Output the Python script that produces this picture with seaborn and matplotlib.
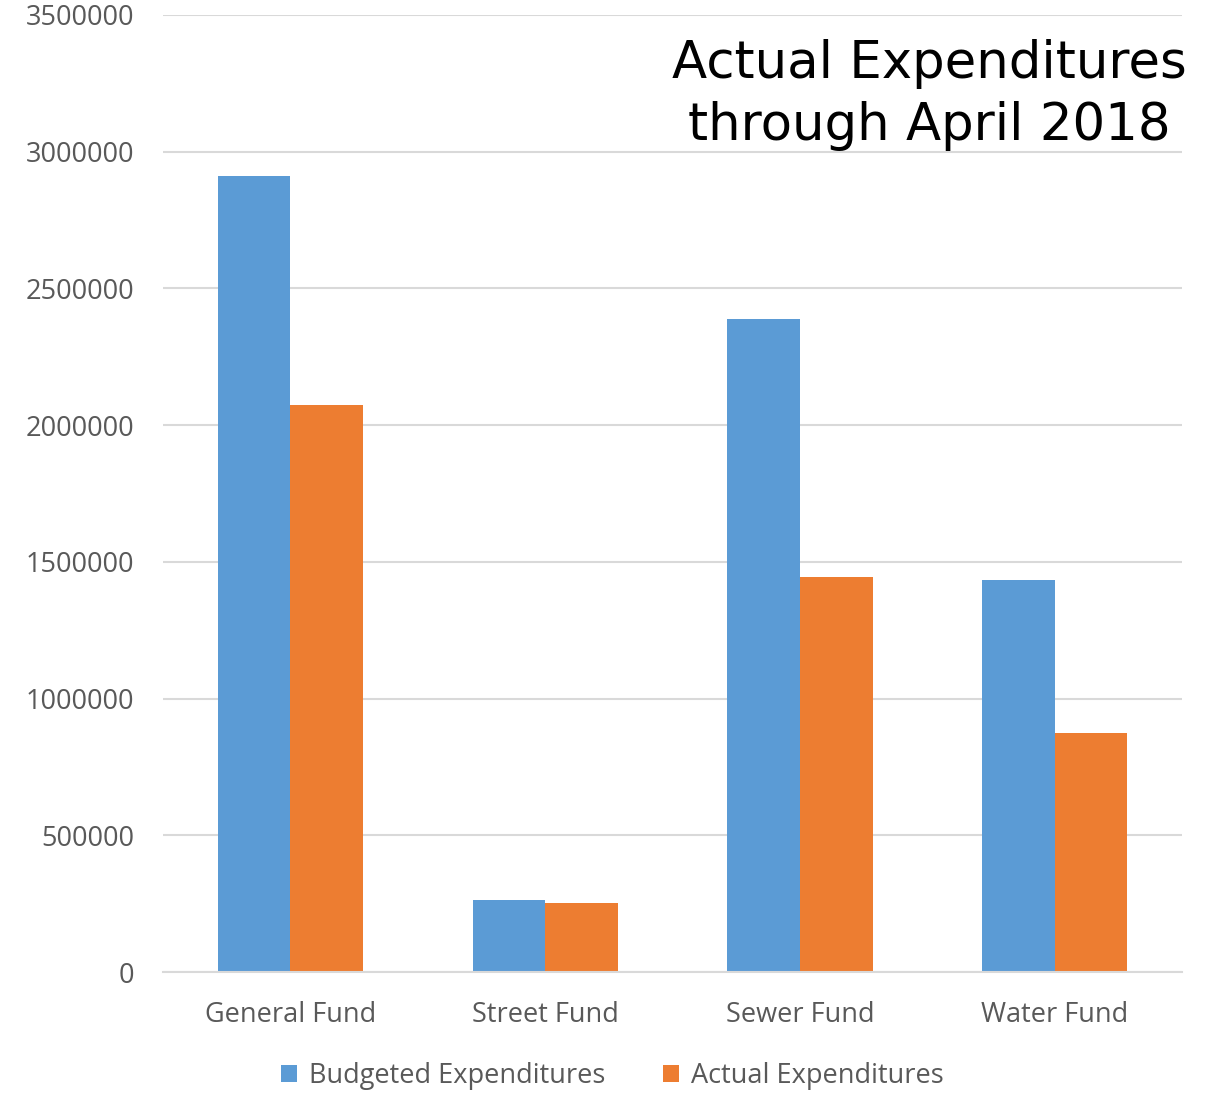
import matplotlib
matplotlib.use("Agg")
import matplotlib.pyplot as plt
import seaborn as sns
import pandas as pd

# Fund expenditure figures
funds = ["General Fund", "Street Fund", "Sewer Fund", "Water Fund"]
budgeted = [2910000, 265000, 2388000, 1433000]
actual = [2075000, 251000, 1443000, 873000]
series_names = ["Budgeted Expenditures", "Actual Expenditures"]
y_ticks = [0, 500000, 1000000, 1500000, 2000000, 2500000, 3000000, 3500000]
title_text = "Actual Expenditures\nthrough April 2018"

df = pd.DataFrame({
    "Fund": funds * 2,
    "Series": [series_names[0]] * len(funds) + [series_names[1]] * len(funds),
    "Value": budgeted + actual,
})

sns.set_theme(style="white")
plt.rcParams["font.family"] = ["Open Sans", "DejaVu Sans"]

fig = plt.figure(figsize=(12.2, 10.94), dpi=100)
ax = fig.add_axes([0.1336, 0.1115, 0.8354, 0.8748])

palette = {series_names[0]: "#5B9BD5", series_names[1]: "#ED7D31"}
sns.barplot(data=df, x="Fund", y="Value", hue="Series", palette=palette,
            width=0.57, gap=0, saturation=1, ax=ax, legend=True)

ax.set_ylim(0, 3500000)
ax.set_xlim(-0.5, 3.5)
ax.set_yticks(y_ticks)
ax.set_yticklabels([str(t) for t in y_ticks])
ax.set_xlabel("")
ax.set_ylabel("")
ax.yaxis.grid(True, color="#d9d9d9", linewidth=1.5)
ax.set_axisbelow(True)
for s in ["top", "right", "left"]:
    ax.spines[s].set_visible(False)
ax.spines["bottom"].set_color("#d9d9d9")
ax.spines["bottom"].set_linewidth(1.5)
ax.tick_params(axis="both", length=0, labelsize=19.5, colors="#595959")
ax.tick_params(axis="x", pad=21)
ax.tick_params(axis="y", pad=21)

for b in ax.patches:
    b.set_edgecolor("none")

ax.legend(loc="center", bbox_to_anchor=(0.441, -0.109), ncol=2,
          frameon=False, fontsize=19.5, handlelength=0.6, handleheight=0.6,
          handletextpad=0.45, columnspacing=2.1, labelcolor="#595959")

fig.text(0.762, 0.913, title_text, ha="center", va="center", fontsize=37,
         color="black", family=["DejaVu Sans"], linespacing=1.3)

fig.savefig("out.png", dpi=100)
